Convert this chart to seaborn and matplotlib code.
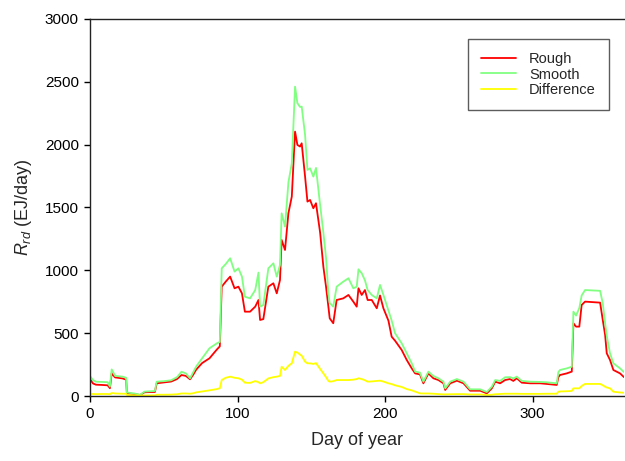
import numpy as np
import pandas as pd
import matplotlib
matplotlib.use("Agg")
import matplotlib.pyplot as plt
import seaborn as sns

day = [0, 2, 4, 8, 12, 13.5, 14.7, 17, 22, 24.5, 25, 30, 34, 37, 44, 45.2, 50, 55, 59, 62,
       65, 67.8, 70, 72, 76, 81, 86, 88, 89.3, 92, 95, 98, 100.6, 103, 105, 108.5, 112, 114.2,
       115.3, 117.5, 120.9, 124.3, 126.6, 128.8, 129.9, 132.2, 134.5, 136.8, 139, 140.6, 142.4,
       143.5, 145.8, 147.4, 149.2, 151.4, 153.2, 156, 158.2, 160, 161.6, 162.5, 164.9, 167.2,
       171.7, 175.2, 178.5, 180.8, 182, 184.2, 186.4, 188.2, 191, 194.4, 196.6, 198.9, 202.3,
       204.5, 206.8, 211.3, 214.7, 218.1, 220.4, 223.7, 226, 229.4, 232.8, 236.2, 239.6, 240.8,
       244.2, 248.7, 253.2, 257.7, 264.5, 269, 272.4, 274.7, 278, 281.4, 284.7, 287, 289.3,
       292.7, 298.4, 305.1, 309.6, 316.4, 317.5, 318.6, 323.2, 326.6, 327.7, 329.5, 331.7,
       333.3, 335.6, 345.8, 347.6, 349.2, 350.3, 352.5, 354.8, 359.3, 362]

rough = [135, 100, 90, 88, 85, 62, 180, 148, 140, 130, 22, 15, 8, 30, 32, 101, 108, 115, 135, 167,
         160, 133, 170, 210, 262, 300, 370, 395, 870, 910, 950, 857, 870, 817, 671, 671, 711, 764,
         605, 612, 870, 897, 817, 923, 1242, 1162, 1454, 1587, 2104, 1998, 1985,
         2011, 1746, 1547, 1560, 1494, 1534, 1300, 1029, 870, 711, 618, 579, 764,
         777, 804, 751, 711, 857, 804, 843, 764, 764, 698, 800, 698, 600,
         472, 440, 366, 287, 220, 180, 172, 101, 180, 141, 127, 101, 48,
         101, 122, 101, 42, 42, 21, 61, 114, 101, 127, 135, 120, 141,
         106, 101, 101, 96, 88, 150, 167, 180, 194, 579, 552, 552,
         724, 751, 743, 605, 486, 340, 287, 207, 180, 150]

smooth = [159, 127, 114, 112, 110, 75, 212, 160, 154, 145, 28, 20, 10, 35, 40, 114, 118, 125, 150, 193,
          180, 141, 190, 235, 300, 380, 419, 430, 1016, 1050, 1096, 990, 1016, 950, 790, 777, 843, 982,
          711, 724, 1016, 1056, 950, 1043, 1454, 1348, 1700, 1852, 2462, 2330, 2300,
          2303, 2078, 1799, 1812, 1746, 1815, 1520, 1300, 1100, 817, 740, 711, 870,
          910, 937, 857, 870, 1008, 977, 920, 843, 804, 777, 884, 804, 680,
          600, 499, 419, 340, 260, 194, 186, 114, 194, 159, 141, 114, 61,
          114, 135, 114, 53, 53, 32, 74, 127, 120, 149, 150, 140, 154,
          120, 114, 112, 109, 101, 190, 207, 220, 233, 671, 640, 700,
          800, 843, 837, 738, 579, 480, 340, 260, 220, 190]

difference = [16, 16, 15, 16, 16, 14, 24, 20, 18, 18, 8, 5, 3, 4, 5, 10, 10, 11, 14, 20,
              20, 18, 22, 29, 36, 45, 55, 62, 127, 145, 154, 145, 141, 130, 106, 104, 119, 110,
              101, 110, 140, 150, 154, 160, 233, 207, 240, 260, 353, 345, 330,
              320, 273, 260, 260, 255, 262, 215, 180, 150, 120, 114, 118, 127,
              127, 127, 130, 135, 141, 135, 125, 114, 116, 120, 122, 115, 101,
              95, 85, 72, 55, 45, 35, 21, 20, 20, 18, 15, 13, 13,
              14, 15, 15, 12, 12, 8, 10, 14, 16, 18, 18, 18, 18,
              17, 17, 17, 18, 18, 34, 36, 38, 40, 61, 61, 61,
              80, 96, 96, 85, 74, 68, 61, 34, 28, 26]

series_names = ["Rough", "Smooth", "Difference"]
series_colors = ["#ff0000", "#80ff80", "#ffff00"]

df = pd.DataFrame({"day": day, "Rough": rough, "Smooth": smooth, "Difference": difference})
long = df.melt(id_vars="day", var_name="series", value_name="value")

sns.set_theme(style="ticks")
plt.rcParams["font.family"] = ["Liberation Sans", "DejaVu Sans"]
plt.rcParams["mathtext.fontset"] = "custom"
plt.rcParams["mathtext.rm"] = "Liberation Sans"
plt.rcParams["mathtext.it"] = "Liberation Sans:italic"

fig = plt.figure(figsize=(6.25, 4.61), dpi=100)
ax = fig.add_axes([90 / 625, 65 / 461, 534 / 625, 377 / 461])

sns.lineplot(data=long, x="day", y="value", hue="series", hue_order=series_names,
             palette=dict(zip(series_names, series_colors)), linewidth=1.3,
             estimator=None, sort=False, ax=ax)

ax.set_xlim(0, 362)
ax.set_ylim(0, 3000)
ax.set_xticks([0, 100, 200, 300])
ax.set_yticks([0, 500, 1000, 1500, 2000, 2500, 3000])
ax.tick_params(axis="both", direction="out", length=4, width=1, colors="black",
               labelsize=11, pad=4)
for side in ["left", "bottom", "top"]:
    ax.spines[side].set_visible(True)
    ax.spines[side].set_color("#222222")
    ax.spines[side].set_linewidth(1)
ax.spines["right"].set_visible(False)

ax.set_xlabel("Day of year", fontsize=13, labelpad=8)
ax.set_ylabel(r"$R_{rd}$ (EJ/day)", fontsize=13, labelpad=8)

handles, labels = ax.get_legend_handles_labels()
leg = ax.legend(handles, labels, loc="upper right", bbox_to_anchor=(0.972, 0.947),
                frameon=True, fancybox=False, edgecolor="#333333", fontsize=10.5,
                handlelength=2.4, borderpad=0.9, labelspacing=0.1, handletextpad=0.9,
                borderaxespad=0)
leg.get_frame().set_linewidth(1)
for line in leg.get_lines():
    line.set_linewidth(1.3)

fig.savefig("out.png", dpi=100, facecolor="white")
